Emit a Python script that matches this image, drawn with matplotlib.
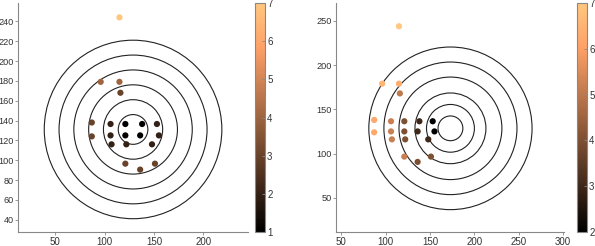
import matplotlib
matplotlib.use('Agg')
import matplotlib.pyplot as plt
from matplotlib.patches import Circle

plt.rcParams['font.family'] = ['Liberation Sans', 'DejaVu Sans']

# shot positions (same in both panels)
shot_x = [115, 96, 115, 116, 87, 87, 106, 121, 138, 153, 106, 121, 136, 155, 107, 122, 148, 121, 151, 136]
shot_y = [244, 179, 179, 168, 138, 124, 136.5, 136.5, 136.5, 136.5, 125, 125, 125, 125, 116, 116, 116, 96.5, 96.5, 90.5]

# colour values per shot
score_left = [7, 4, 4, 3, 3, 3, 2, 1, 1, 2, 2, 1, 1, 2, 2, 2, 2, 3, 3, 3]
score_right = [7, 6.5, 6.3, 5, 6.2, 6.2, 5.2, 4, 3, 2, 5.2, 4, 3, 2, 5.2, 4, 3, 5.2, 4, 4]

# target rings
center_left = (128.8, 131.0)
radii_left = [15, 30, 45, 60, 75, 90]
center_right = (173.0, 128.5)
radii_right = [14, 27, 40, 58, 75, 92]

grey = '#888888'


def style_axes(ax):
    for side in ['top', 'right']:
        ax.spines[side].set_visible(False)
    for side in ['left', 'bottom']:
        ax.spines[side].set_color(grey)
    ax.tick_params(direction='out', length=2, width=0.6, color=grey, pad=1.5,
                   labelsize=7, labelcolor='#333333')
    ax.tick_params(axis='y', pad=1, labelsize=6.6)


def draw_panel(ax, cax, center, radii, values, vmin, vmax, xlim, ylim, xticks, yticks):
    for r in radii:
        ax.add_patch(Circle(center, r, fill=False, edgecolor='#222222', lw=0.8))
    sc = ax.scatter(shot_x, shot_y, c=values, cmap='copper', vmin=vmin, vmax=vmax,
                    s=20, linewidths=0, zorder=3)
    ax.set_xlim(*xlim)
    ax.set_ylim(*ylim)
    ax.set_xticks(xticks)
    ax.set_yticks(yticks)
    style_axes(ax)
    cb = plt.colorbar(sc, cax=cax)
    cb.set_ticks(range(vmin, vmax + 1))
    cb.outline.set_edgecolor(grey)
    cb.ax.tick_params(direction='in', length=2, width=0.6, color=grey, pad=1.5,
                      labelsize=7, labelcolor='#333333')


fig = plt.figure(figsize=(5.95, 2.46), dpi=100)
W, H = 595, 246

ax1 = fig.add_axes([18 / W, (H - 232) / H, 230 / W, 229 / H])
cax1 = fig.add_axes([255 / W, (H - 232) / H, 10 / W, 229 / H])
ax2 = fig.add_axes([336 / W, (H - 232) / H, 228 / W, 229 / H])
cax2 = fig.add_axes([577 / W, (H - 232) / H, 10 / W, 229 / H])

draw_panel(ax1, cax1, center_left, radii_left, score_left, 1, 7,
           (12.2, 245.3), (27.6, 258.5),
           [50, 100, 150, 200], list(range(40, 241, 20)))
draw_panel(ax2, cax2, center_right, radii_right, score_right, 2, 7,
           (44, 301), (11.2, 270.3),
           [50, 100, 150, 200, 250, 300], [50, 100, 150, 200, 250])

fig.savefig('out.png', dpi=100)
